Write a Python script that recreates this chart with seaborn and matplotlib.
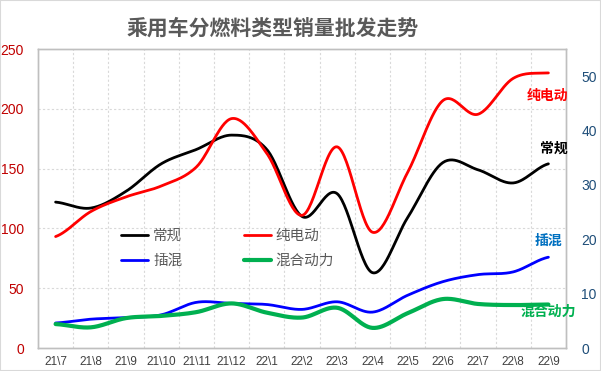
import numpy as np
import seaborn as sns
import matplotlib.pyplot as plt
from matplotlib.lines import Line2D
from matplotlib.patches import Rectangle

months = ["21\\7", "21\\8", "21\\9", "21\\10", "21\\11", "21\\12", "22\\1", "22\\2",
          "22\\3", "22\\4", "22\\5", "22\\6", "22\\7", "22\\8", "22\\9"]
# left axis
conventional = [122, 117, 131, 154, 166, 178, 166, 110, 129, 63, 109, 155, 149, 138, 154]
# right axis
bev = [20.5, 25.1, 27.8, 29.8, 33.3, 42.2, 35.8, 24.4, 37.0, 21.3, 32.3, 45.5, 43.0, 49.6, 50.6]
phev = [4.6, 5.3, 5.6, 6.1, 8.4, 8.2, 8.0, 7.1, 8.5, 6.6, 9.7, 12.2, 13.5, 14.0, 16.7]
hev = [4.4, 3.8, 5.5, 5.9, 6.6, 8.2, 6.5, 5.6, 7.4, 3.7, 6.4, 9.0, 8.1, 7.9, 8.0]


def smooth(vals, n=30):
    # Excel-style smoothed line (uniform Catmull-Rom through the points)
    y = np.asarray(vals, dtype=float)
    p = np.concatenate([[y[0]], y, [y[-1]]])
    xs, ys = [], []
    for i in range(len(y) - 1):
        p0, p1, p2, p3 = p[i], p[i + 1], p[i + 2], p[i + 3]
        t = np.linspace(0, 1, n, endpoint=False)
        c = 0.5 * ((2 * p1) + (-p0 + p2) * t + (2 * p0 - 5 * p1 + 4 * p2 - p3) * t ** 2
                   + (-p0 + 3 * p1 - 3 * p2 + p3) * t ** 3)
        xs.extend(i + t)
        ys.extend(c)
    xs.append(len(y) - 1)
    ys.append(y[-1])
    return np.array(xs), np.array(ys)


sns.set_style("white")
plt.rcParams['font.family'] = ['Liberation Sans', 'Noto Sans CJK SC', 'DejaVu Sans']

fig = plt.figure(figsize=(6.01, 3.71), dpi=100)
ax = fig.add_axes([38 / 601, 1 - 348 / 371, 528 / 601, 299 / 371])
ax2 = ax.twinx()

grid_c = "#D9D9D9"
ax.set_xlim(-0.5, 14.5)
ax.set_ylim(0, 250)
ax2.set_ylim(0, 55)
ax.set_yticks([0, 50, 100, 150, 200, 250])
ax2.set_yticks([0, 10, 20, 30, 40, 50])
ax.set_xticks(range(len(months)))
ax.set_xticklabels(months)
for b in np.arange(0.5, 14.5, 1):
    ax.axvline(b, color=grid_c, lw=0.8, ls=(0, (2, 2)), zorder=0)
for v in [50, 100, 150, 200]:
    ax.axhline(v, color=grid_c, lw=0.8, ls=(0, (2, 2)), zorder=0)

x, y = smooth(conventional)
sns.lineplot(x=x, y=y, ax=ax, color="black", lw=2.0, sort=False, legend=False)
x, y = smooth(bev)
sns.lineplot(x=x, y=y, ax=ax2, color="#FF0000", lw=2.0, sort=False, legend=False)
x, y = smooth(phev)
sns.lineplot(x=x, y=y, ax=ax2, color="#0000FF", lw=2.0, sort=False, legend=False)
x, y = smooth(hev)
sns.lineplot(x=x, y=y, ax=ax2, color="#00B050", lw=3.0, sort=False, legend=False)

for a in (ax, ax2):
    for s in a.spines.values():
        s.set_color("#BFBFBF")
        s.set_linewidth(1.0)
        s.set_zorder(0.5)
ax.tick_params(axis='y', length=0, pad=10, labelsize=10, labelcolor="#C00000")
ax.tick_params(axis='x', length=0, pad=6, labelsize=8.5, labelcolor="#404040")
ax2.tick_params(axis='y', length=0, pad=11, labelsize=10, labelcolor="#1F4E79")
ax.set_xlabel("")
ax.set_ylabel("")
ax2.set_ylabel("")

handles = [Line2D([], [], color="black", lw=2.0),
           Line2D([], [], color="#0000FF", lw=2.0),
           Line2D([], [], color="#FF0000", lw=2.0),
           Line2D([], [], color="#00B050", lw=3.0)]
labels = ["常规", "插混", "纯电动", "混合动力"]
fig.legend(handles, labels, ncol=2, loc="upper left", bbox_to_anchor=(121 / 601, 1 - 229 / 371),
           frameon=False, fontsize=10.5, labelcolor="#595959", handlelength=1.85,
           handletextpad=0.35, columnspacing=4.2, labelspacing=0.75, borderpad=0,
           borderaxespad=0)

# end-of-series labels (right-axis units so they sit above the spines)
ax2.text(13.97, 46.4, "纯电动", color="#FF0000", fontsize=10, fontweight="bold", ha="center", va="center", zorder=5)
ax2.text(14.15, 36.7, "常规", color="black", fontsize=10, fontweight="bold", ha="center", va="center", zorder=5)
ax2.text(14, 19.8, "插混", color="#0070C0", fontsize=10, fontweight="bold", ha="center", va="center", zorder=5)
ax2.text(14, 6.6, "混合动力", color="#00B050", fontsize=10, fontweight="bold", ha="center", va="center", zorder=5)

fig.text(273 / 601, 1 - 28 / 371, "乘用车分燃料类型销量批发走势", ha="center", va="center",
         fontsize=15, fontweight="bold", color="#595959")

fig.patches.append(Rectangle((0, 0), 1, 1, transform=fig.transFigure, fill=False,
                             edgecolor="#D9D9D9", lw=1.5))

fig.savefig("out.png", dpi=100)
